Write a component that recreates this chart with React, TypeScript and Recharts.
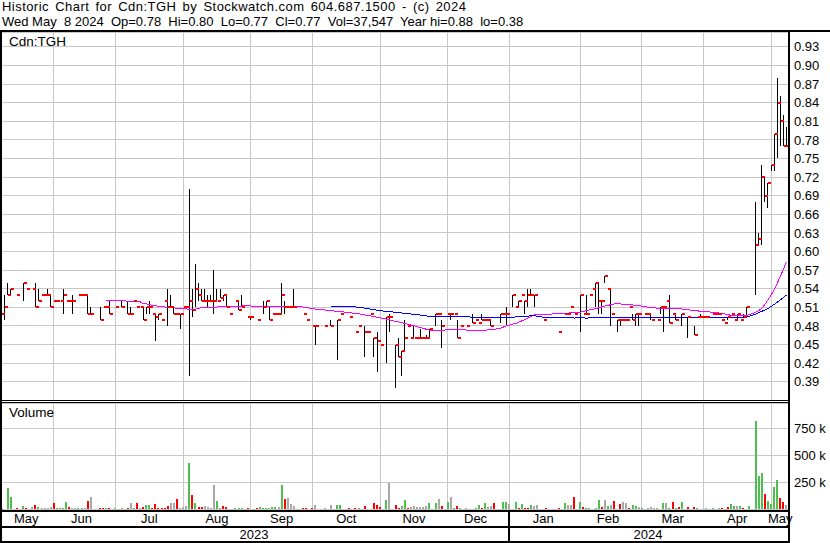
import React from "react";
import { Bar, CartesianGrid, ComposedChart, Line, Scatter, XAxis, YAxis } from "recharts";

const FONT = '"Liberation Sans", Arial, sans-serif';
const GRID = "#c8c8c8";

// one slot per trading day, May 8 2023 .. May 8 2024
const DAYS = 256;
const monthStarts = [17, 37, 59, 81, 101, 123, 145, 165, 188, 208, 228, 250];
const monthNames = ["May", "Jun", "Jul", "Aug", "Sep", "Oct", "Nov", "Dec", "Jan", "Feb", "Mar", "Apr", "May"];
const monthLabelAt = [8, 26, 48, 70, 91, 112, 134, 154, 176, 197, 218, 239, 253];
const yearNames = ["2023", "2024"];
const yearLabelAt = [82, 210];

const priceTicks = [0.39, 0.42, 0.45, 0.48, 0.51, 0.54, 0.57, 0.6, 0.63, 0.66, 0.69, 0.72, 0.75, 0.78, 0.81, 0.84, 0.87, 0.9, 0.93];
const volTicks = [250000, 500000, 750000];

// [day, high, low, close]
const ohlc: [number, number, number, number][] = [
  [0, .50, .50, .50], [1, .53, .49, .51], [2, .55, .53, .53], [3, .54, .53, .54], [5, .53, .53, .53],
  [7, .55, .52, .55], [8, .54, .54, .54], [10, .54, .54, .54], [11, .55, .51, .51], [12, .54, .52, .52],
  [13, .53, .53, .53], [14, .53, .53, .53], [15, .54, .53, .53], [16, .53, .51, .51], [17, .52, .52, .52],
  [18, .52, .52, .52], [19, .52, .52, .52], [20, .54, .50, .53], [21, .52, .52, .52], [22, .52, .52, .52],
  [23, .53, .50, .52], [25, .53, .53, .53], [26, .53, .53, .53], [27, .53, .53, .53], [28, .53, .50, .50],
  [29, .51, .50, .50], [32, .51, .49, .49], [33, .51, .51, .51], [34, .51, .51, .51], [35, .52, .50, .50],
  [37, .51, .51, .51], [39, .52, .51, .51], [41, .52, .50, .50], [42, .51, .50, .50], [43, .52, .52, .52],
  [44, .51, .51, .51], [45, .51, .51, .51], [46, .51, .49, .49], [47, .51, .50, .51], [48, .52, .50, .51],
  [49, .50, .50, .50], [50, .50, .455, .495], [51, .50, .49, .50], [52, .49, .49, .49], [53, .52, .52, .52],
  [54, .54, .48, .51], [55, .53, .51, .51], [56, .51, .50, .50], [57, .50, .50, .50], [58, .50, .475, .50],
  [59, .51, .51, .51], [60, .51, .51, .51], [61, .70, .40, .52], [62, .54, .495, .505], [63, .58, .51, .54],
  [64, .55, .52, .53], [65, .54, .52, .52], [66, .54, .52, .52], [67, .53, .51, .52], [68, .53, .52, .52],
  [69, .57, .50, .52], [70, .54, .52, .52], [71, .54, .525, .525], [72, .53, .52, .53], [73, .53, .51, .51],
  [74, .50, .50, .50], [76, .52, .52, .52], [77, .52, .505, .505], [78, .53, .51, .51], [80, .495, .495, .495],
  [81, .495, .49, .495], [83, .49, .49, .49], [85, .52, .50, .51], [86, .52, .51, .52], [87, .51, .49, .49],
  [88, .50, .50, .50], [89, .50, .50, .50], [90, .50, .50, .50], [91, .55, .50, .53], [92, .52, .50, .51],
  [93, .51, .51, .51], [94, .51, .51, .51], [95, .54, .51, .51], [98, .50, .50, .50], [99, .49, .49, .49],
  [101, .48, .48, .48], [102, .48, .45, .48], [105, .48, .48, .48], [107, .49, .48, .48], [109, .49, .425, .49],
  [110, .50, .50, .50], [113, .495, .495, .495], [115, .47, .47, .47], [116, .48, .48, .48], [118, .48, .43, .47],
  [119, .47, .47, .47], [120, .50, .50, .50], [121, .46, .43, .46], [122, .47, .405, .455], [123, .45, .45, .45],
  [125, .495, .42, .495], [126, .50, .47, .495], [128, .45, .38, .45], [129, .46, .43, .43], [130, .44, .40, .44],
  [131, .49, .44, .46], [132, .48, .48, .48], [133, .46, .46, .46], [134, .48, .46, .46], [135, .46, .46, .46],
  [136, .475, .46, .46], [137, .46, .46, .46], [138, .465, .46, .46], [139, .475, .46, .475], [141, .50, .48, .50],
  [142, .50, .50, .50], [143, .49, .445, .48], [145, .50, .50, .50], [146, .50, .49, .50], [147, .50, .50, .50],
  [148, .49, .46, .46], [149, .48, .48, .48], [151, .48, .48, .48], [153, .50, .485, .485], [154, .49, .49, .49],
  [155, .485, .485, .485], [156, .50, .49, .49], [157, .49, .49, .49], [158, .49, .49, .49], [159, .49, .48, .48],
  [162, .50, .485, .50], [163, .50, .50, .50], [164, .51, .48, .50], [166, .53, .51, .53], [167, .51, .51, .51],
  [168, .52, .51, .52], [169, .53, .53, .53], [170, .52, .50, .52], [171, .54, .51, .53], [172, .54, .53, .53],
  [173, .53, .51, .53], [176, .49, .49, .49], [181, .47, .47, .47], [183, .50, .50, .50], [184, .50, .50, .50],
  [185, .51, .51, .51], [186, .50, .50, .50], [188, .53, .47, .53], [189, .50, .50, .50], [190, .53, .50, .50],
  [191, .53, .53, .53], [192, .54, .54, .54], [193, .55, .51, .55], [194, .55, .50, .52], [195, .52, .50, .52],
  [196, .56, .55, .56], [197, .54, .54, .54], [198, .54, .48, .50], [200, .49, .47, .49], [201, .49, .48, .49],
  [202, .49, .49, .49], [203, .49, .49, .49], [204, .51, .51, .51], [205, .50, .49, .49], [206, .50, .48, .50],
  [207, .50, .48, .50], [209, .50, .50, .50], [210, .50, .50, .50], [211, .50, .49, .49], [213, .49, .49, .49],
  [214, .51, .50, .51], [215, .51, .47, .51], [216, .52, .52, .52], [217, .53, .485, .485], [218, .50, .50, .50],
  [219, .50, .49, .49], [221, .50, .48, .50], [223, .495, .46, .495], [225, .48, .465, .465], [226, .495, .495, .495],
  [227, .50, .495, .495], [228, .495, .495, .495], [229, .495, .495, .495], [231, .50, .50, .50], [232, .50, .50, .50],
  [233, .50, .50, .50], [234, .49, .49, .49], [235, .485, .485, .485], [236, .495, .49, .495], [237, .50, .50, .50],
  [238, .49, .49, .49], [239, .50, .49, .50], [240, .49, .49, .49], [241, .50, .495, .495], [242, .51, .495, .51],
  [245, .68, .53, .61], [246, .63, .61, .62], [247, .74, .61, .72], [248, .72, .68, .69], [249, .71, .67, .71],
  [250, .74, .73, .74], [251, .79, .73, .79], [252, .88, .75, .84], [253, .85, .77, .81], [254, .82, .77, .77],
  [255, .80, .77, .77],
];

// [day, volume in thousands, u = up / d = down / n = unchanged]
const volumes: [number, number, string][] = [
  [0, 10, "n"], [2, 197, "u"], [3, 114, "u"], [5, 12, "d"], [7, 28, "u"], [8, 12, "d"], [10, 22, "n"], [11, 37, "d"],
  [12, 22, "u"], [13, 12, "n"], [14, 12, "n"], [15, 12, "n"], [16, 22, "n"], [17, 56, "d"], [18, 12, "u"], [19, 12, "u"],
  [20, 12, "u"], [21, 65, "u"], [22, 22, "d"], [23, 12, "n"], [24, 12, "n"], [25, 12, "u"], [26, 12, "u"], [27, 12, "n"],
  [28, 74, "d"], [29, 111, "n"], [32, 12, "d"], [33, 12, "d"], [34, 12, "u"], [35, 12, "d"], [37, 12, "u"], [39, 12, "n"],
  [41, 12, "d"], [42, 56, "n"], [43, 12, "u"], [44, 56, "d"], [45, 12, "n"], [46, 22, "d"], [47, 37, "u"], [48, 37, "u"],
  [49, 12, "d"], [50, 46, "d"], [51, 12, "d"], [52, 12, "d"], [53, 12, "d"], [54, 30, "d"], [55, 56, "n"], [56, 56, "n"],
  [57, 93, "d"], [58, 12, "n"], [59, 22, "n"], [60, 28, "n"], [61, 426, "u"], [62, 130, "d"], [63, 56, "u"], [64, 20, "d"],
  [65, 20, "d"], [66, 25, "n"], [67, 18, "n"], [68, 12, "n"], [69, 222, "n"], [70, 74, "u"], [71, 12, "n"], [72, 30, "d"],
  [73, 20, "d"], [76, 12, "u"], [77, 12, "u"], [78, 12, "u"], [80, 12, "d"], [83, 12, "d"], [84, 20, "u"], [85, 12, "u"],
  [86, 12, "u"], [87, 12, "u"], [88, 22, "u"], [89, 22, "u"], [90, 22, "n"], [91, 222, "u"], [92, 93, "d"], [93, 102, "n"],
  [94, 46, "n"], [95, 30, "n"], [98, 12, "d"], [99, 12, "d"], [101, 12, "d"], [102, 37, "n"], [105, 12, "n"], [107, 37, "n"],
  [109, 37, "u"], [110, 37, "u"], [113, 12, "d"], [115, 12, "d"], [116, 12, "u"], [118, 30, "d"], [121, 56, "d"], [122, 37, "d"],
  [123, 22, "d"], [125, 83, "u"], [126, 241, "n"], [128, 37, "d"], [129, 12, "d"], [130, 30, "u"], [131, 83, "u"], [132, 12, "d"],
  [133, 20, "n"], [134, 28, "n"], [135, 20, "n"], [136, 20, "n"], [137, 20, "n"], [138, 28, "n"], [139, 56, "u"], [141, 56, "u"],
  [142, 93, "n"], [143, 30, "d"], [145, 65, "u"], [146, 111, "n"], [147, 12, "u"], [148, 28, "d"], [149, 12, "u"], [151, 12, "n"],
  [154, 12, "u"], [155, 37, "u"], [156, 12, "d"], [157, 56, "u"], [158, 22, "n"], [159, 30, "n"], [160, 56, "d"], [163, 65, "u"],
  [164, 65, "u"], [165, 46, "n"], [167, 65, "u"], [168, 12, "d"], [169, 46, "u"], [170, 12, "d"], [171, 12, "d"], [172, 37, "u"],
  [173, 28, "n"], [174, 37, "n"], [177, 12, "d"], [181, 12, "d"], [183, 56, "u"], [184, 37, "n"], [185, 37, "n"], [186, 111, "d"],
  [188, 65, "u"], [189, 22, "d"], [190, 12, "u"], [191, 12, "u"], [193, 12, "u"], [194, 83, "u"], [195, 22, "d"], [196, 83, "n"],
  [197, 28, "u"], [198, 37, "n"], [199, 74, "d"], [201, 46, "d"], [202, 65, "n"], [203, 56, "n"], [204, 12, "d"], [205, 37, "u"],
  [206, 28, "u"], [207, 18, "n"], [208, 12, "u"], [210, 12, "n"], [211, 18, "n"], [212, 12, "n"], [213, 12, "n"], [215, 56, "u"],
  [216, 56, "n"], [217, 12, "u"], [218, 65, "d"], [219, 12, "u"], [220, 18, "d"], [221, 65, "u"], [223, 18, "d"], [225, 18, "d"],
  [226, 12, "u"], [229, 12, "n"], [231, 12, "u"], [233, 12, "n"], [234, 12, "d"], [236, 18, "d"], [237, 46, "u"], [238, 30, "u"],
  [239, 28, "n"], [240, 28, "u"], [241, 12, "d"], [243, 30, "u"], [245, 815, "u"], [246, 306, "u"], [247, 333, "u"], [248, 139, "d"],
  [249, 74, "u"], [250, 46, "u"], [251, 204, "u"], [252, 268, "u"], [253, 102, "d"], [254, 65, "d"], [255, 38, "n"],
];

// moving averages: [day, value]
const maFast: [number, number][] = [
  [34, .521], [40, .521], [41, .519], [45, .519], [46, .516], [48, .515], [49, .513], [52, .511], [55, .5095], [58, .508],
  [61, .507], [62, .506], [63, .507], [65, .5095], [70, .5105], [76, .511], [78, .512], [80, .513], [81, .512], [86, .5115],
  [88, .5105], [91, .5115], [97, .5115], [99, .5095], [102, .507], [105, .5057], [108, .504], [112, .502], [116, .4995],
  [120, .496], [124, .492], [128, .4875], [133, .4815], [137, .476], [140, .472], [144, .4734], [150, .4735], [156, .4725],
  [160, .4745], [162, .476], [164, .48], [167, .484], [169, .488], [171, .4928], [173, .4976], [177, .4987], [183, .5003],
  [188, .502], [190, .5046], [193, .5078], [196, .512], [199, .5154], [201, .5154], [205, .5138], [208, .512], [211, .5095],
  [214, .5084], [219, .5084], [222, .5068], [225, .5046], [229, .503], [234, .5003], [237, .497], [240, .4965], [242, .497],
  [244, .5], [245, .502], [247, .508], [249, .5218], [251, .538], [253, .5595], [255, .5835],
];
const maSlow: [number, number][] = [
  [107, .511], [114, .511], [117, .5095], [119, .508], [121, .506], [124, .504], [128, .502], [132, .4998], [136, .4976],
  [139, .4955], [147, .495], [155, .494], [166, .494], [170, .4955], [173, .4965], [176, .494], [185, .494], [186, .4925],
  [188, .494], [190, .4925], [194, .494], [242, .494], [245, .499], [249, .508], [252, .518], [255, .5298],
];

type Row = { i: number; hl?: [number, number]; close?: number; vol?: number; dir?: string; ma1?: number; ma2?: number };

const rows: Row[] = Array.from({ length: DAYS }, (_, i) => ({ i }));
ohlc.forEach(([i, h, l, c]) => {
  rows[i].hl = [l, h];
  rows[i].close = c;
});
volumes.forEach(([i, v, d]) => {
  rows[i].vol = v * 1000;
  rows[i].dir = d;
});
maFast.forEach(([i, v]) => (rows[i].ma1 = v));
maSlow.forEach(([i, v]) => (rows[i].ma2 = v));

const volColor: Record<string, string> = { u: "#4fc04f", d: "#ff0000", n: "#a8a8a8" };

const HiLo = (p: any) => {
  if (!p.height || p.height < 0.5) return <g />;
  const col = Math.floor(p.x + p.width / 2);
  return <rect x={col} y={p.y} width={1} height={p.height} fill="#000" shapeRendering="crispEdges" />;
};

const CloseTick = (p: any) => {
  if (p.payload?.close == null || !isFinite(p.cy)) return <g />;
  const col = Math.floor(p.cx);
  return <rect x={col + 1} y={Math.round(p.cy) - 1} width={3} height={2} fill="#ff0000" shapeRendering="crispEdges" />;
};

const VolBar = (p: any) => {
  if (p.payload?.vol == null) return <g />;
  const col = Math.floor(p.x + p.width / 2);
  return (
    <rect x={col - 1} y={p.y} width={2} height={Math.max(p.height, 1)} fill={volColor[p.payload.dir]} shapeRendering="crispEdges" />
  );
};

const tickStyle = { fill: "#000", fontSize: 13, fontFamily: FONT };

const line = (style: React.CSSProperties) => <div style={{ position: "absolute", background: "#000", ...style }} />;

export default function App() {
  return (
    <div style={{ position: "absolute", left: 0, top: 0, width: 830, height: 543, background: "#fff", fontFamily: FONT, color: "#000", overflow: "hidden" }}>
      <div style={{ position: "absolute", left: 2, top: 0, fontSize: 13, lineHeight: "13px", whiteSpace: "pre", letterSpacing: 0.45, wordSpacing: 2.2 }}>
        Historic Chart for Cdn:TGH by Stockwatch.com 604.687.1500 - (c) 2024
      </div>
      <div style={{ position: "absolute", left: 2, top: 15, fontSize: 13, lineHeight: "13px", whiteSpace: "pre" }}>
        {"Wed May  8 2024  Op=0.78  Hi=0.80  Lo=0.77  Cl=0.77  Vol=37,547  Year hi=0.88  lo=0.38"}
      </div>

      <div style={{ position: "absolute", left: 0, top: 32 }}>
        <ComposedChart width={830} height={368} data={rows} margin={{ top: 0, right: 0, bottom: 0, left: 0 }} barGap={0} barCategoryGap={0}>
          <CartesianGrid stroke={GRID} shapeRendering="crispEdges" />
          <XAxis dataKey="i" hide height={0} ticks={monthStarts} interval={0} />
          <YAxis
            orientation="right"
            width={42}
            domain={[0.3605, 0.954]}
            ticks={priceTicks}
            interval={0}
            tickFormatter={(v: number) => v.toFixed(2)}
            axisLine={false}
            tickLine={false}
            tickSize={4}
            tickMargin={2}
            tick={tickStyle}
          />
          <Line dataKey="ma1" stroke="#ff00ff" strokeWidth={1} dot={false} connectNulls shapeRendering="crispEdges" isAnimationActive={false} />
          <Line dataKey="ma2" stroke="#0000ff" strokeWidth={1} dot={false} connectNulls shapeRendering="crispEdges" isAnimationActive={false} />
          <Bar dataKey="hl" barSize={1} shape={HiLo} isAnimationActive={false} />
          <Scatter dataKey="close" shape={CloseTick} isAnimationActive={false} />
        </ComposedChart>
      </div>

      <div style={{ position: "absolute", left: 0, top: 403 }}>
        <ComposedChart width={830} height={140} data={rows} margin={{ top: 0, right: 0, bottom: 0, left: 0 }} barGap={0} barCategoryGap={0}>
          <CartesianGrid stroke={GRID} xAxisId="grid" shapeRendering="crispEdges" />
          <XAxis xAxisId="grid" dataKey="i" hide height={0} ticks={monthStarts} interval={0} />
          <XAxis
            dataKey="i"
            height={17}
            ticks={monthLabelAt}
            interval={0}
            tickFormatter={(v: number) => monthNames[monthLabelAt.indexOf(v)] ?? ""}
            axisLine={false}
            tickLine={false}
            tickSize={0}
            tickMargin={5}
            tick={tickStyle}
          />
          <XAxis
            xAxisId="year"
            dataKey="i"
            height={17}
            ticks={yearLabelAt}
            interval={0}
            tickFormatter={(v: number) => yearNames[yearLabelAt.indexOf(v)] ?? ""}
            axisLine={false}
            tickLine={false}
            tickSize={0}
            tickMargin={4}
            tick={tickStyle}
          />
          <YAxis
            orientation="right"
            width={42}
            domain={[0, 985000]}
            ticks={volTicks}
            interval={0}
            tickFormatter={(v: number) => `${v / 1000} k`}
            axisLine={false}
            tickLine={false}
            tickSize={4}
            tickMargin={2}
            tick={tickStyle}
          />
          <Bar dataKey="vol" barSize={2} shape={VolBar} isAnimationActive={false} />
        </ComposedChart>
      </div>

      <div style={{ position: "absolute", left: 9, top: 35, fontSize: 13.5, lineHeight: "14px" }}>Cdn:TGH</div>
      <div style={{ position: "absolute", left: 9, top: 406, fontSize: 13.5, lineHeight: "14px" }}>Volume</div>

      {line({ left: 0, top: 30, width: 830, height: 2 })}
      {line({ left: 0, top: 30, width: 2, height: 513 })}
      {line({ left: 788, top: 30, width: 2, height: 513 })}
      {line({ left: 0, top: 400, width: 790, height: 1 })}
      {line({ left: 0, top: 402, width: 790, height: 1 })}
      {line({ left: 0, top: 510, width: 790, height: 2 })}
      {line({ left: 0, top: 526, width: 790, height: 2 })}
      {line({ left: 0, top: 541, width: 790, height: 2 })}
      {line({ left: 508, top: 510, width: 2, height: 33 })}
    </div>
  );
}
